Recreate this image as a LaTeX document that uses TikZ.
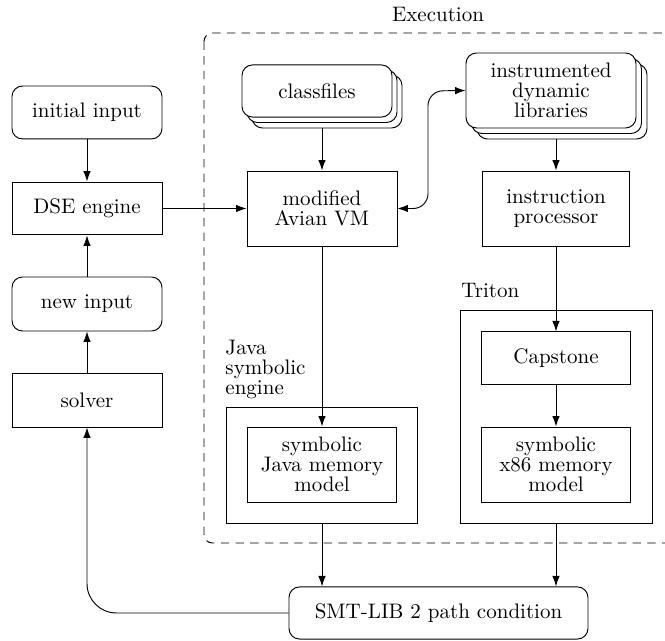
\documentclass[tikz,border=0pt]{standalone}
\usetikzlibrary{arrows.meta}
\begin{document}
\begin{tikzpicture}[x=0.476pt,y=-0.476pt,
  >={Latex[length=5pt,width=3.6pt]},
  line width=0.45pt,
  every node/.style={font=\fontsize{10}{9.5}\selectfont, inner sep=0pt, align=center},
  sqbox/.style={draw, fill=white, minimum width=71.4pt},
  rbox/.style={draw, fill=white, rounded corners=5pt, minimum width=71.4pt},
  shadowcopy/.style={draw, fill=white, rounded corners=5pt},
  grp/.style={draw},
  lbl/.style={align=left, inner sep=0pt},
  conn/.style={->},
  execbox/.style={draw, dash pattern=on 4pt off 3pt, rounded corners=4pt}]
\useasboundingbox (0,0) rectangle (665,641);

% execution region
\draw[execbox] (204,33) rectangle (690,543);
\node[anchor=base] (exec) at (438,22) {Execution};

% left column
\node[rbox, minimum height=25.2pt] (init) at (87,112.5) {initial input};
\node[sqbox, minimum height=25.2pt] (dse) at (87,208.5) {DSE engine};
\node[rbox, minimum height=25.7pt] (newin) at (87,304) {new input};
\node[sqbox, minimum height=25.7pt] (solver) at (87,400) {solver};

% classfiles (stacked)
\draw[shadowcopy] (252,75) rectangle (402,128);
\draw[shadowcopy] (247,70) rectangle (397,122.5);
\node[rbox, minimum height=24.8pt] (cls) at (317,91) {classfiles};
\coordinate (clsb) at (322,128);

% instrumented libraries (stacked)
\draw[shadowcopy] (477,64) rectangle (647,139);
\draw[shadowcopy] (471.5,58.5) rectangle (641.5,133.5);
\node[rbox, minimum width=80.9pt, minimum height=35.7pt] (libs) at (551,90.5) {instrumented\\dynamic\\libraries};
\coordinate (libsb) at (556,139);

\node[sqbox, minimum height=35.7pt] (vm) at (322,208.5) {modified\\Avian VM};
\node[sqbox, minimum width=70.4pt, minimum height=35.7pt] (proc) at (556,208.5) {instruction\\processor};

% Java symbolic engine
\node[lbl, anchor=north west] (javalbl) at (225,340) {Java\\symbolic\\engine};
\draw[grp] (226,407) rectangle (417,523);
\coordinate (javab) at (322,523);
\node[sqbox, minimum width=70.9pt, minimum height=35.7pt] (jmem) at (322,464.5) {symbolic\\Java memory\\model};

% Triton
\node[lbl, anchor=base west] (tritonlbl) at (461,298) {Triton};
\draw[grp] (460,310) rectangle (652,523);
\coordinate (tritonb) at (556,523);
\node[sqbox, minimum width=70.9pt, minimum height=24.8pt] (cap) at (556,358) {Capstone};
\node[sqbox, minimum width=70.9pt, minimum height=35.7pt] (x86) at (556,464.5) {symbolic\\x86 memory\\model};

% SMT
\node[rbox, minimum width=142.3pt, minimum height=24.8pt] (smt) at (438.5,613) {SMT-LIB 2 path condition};

% connectors
\draw[conn] (init) -- (dse);
\draw[conn] (newin) -- (dse);
\draw[conn] (solver) -- (newin);
\draw[conn] (dse) -- (vm);
\draw[conn] (clsb) -- (vm);
\draw[conn] (libsb) -- (proc);
\draw[<->, rounded corners=7pt] (vm.east) -- (428,208.5) -- (428,91) -- (libs.west);
\draw[conn] (vm.south) -- (jmem.north);
\draw[conn] (proc.south) -- (cap.north);
\draw[conn] (cap) -- (x86);
\draw[conn] (javab) -- (javab |- smt.north);
\draw[conn] (tritonb) -- (tritonb |- smt.north);
\draw[conn, rounded corners=14pt] (smt.west) -- (87,613) -- (solver.south);
\end{tikzpicture}
\end{document}
